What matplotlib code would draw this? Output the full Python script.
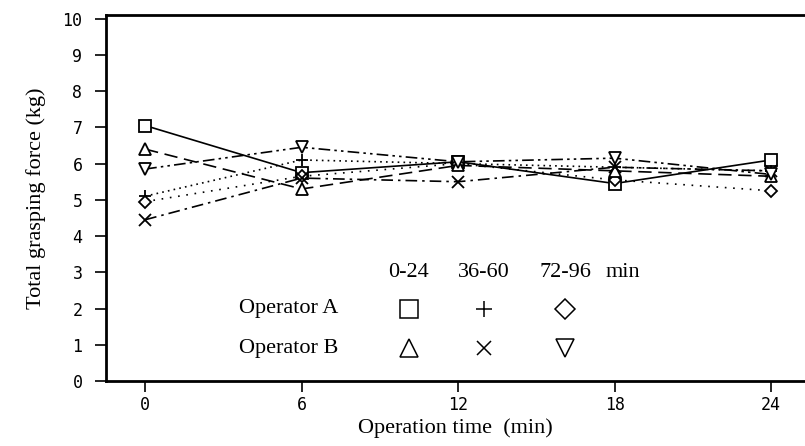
import matplotlib
matplotlib.use("Agg")
import matplotlib.pyplot as plt

# Data.
times = [0, 6, 12, 18, 24]

op_a_0_24 = [7.05, 5.75, 6.05, 5.45, 6.1]
op_a_36_60 = [5.1, 6.1, 6.0, 5.9, 5.8]
op_a_72_96 = [4.95, 5.65, 6.0, 5.55, 5.25]
op_b_0_24 = [6.4, 5.3, 5.95, 5.8, 5.65]
op_b_36_60 = [4.45, 5.6, 5.5, 5.9, 5.8]
op_b_72_96 = [5.85, 6.45, 6.05, 6.15, 5.7]

period_labels = ["0-24", "36-60", "72-96"]
operator_labels = ["Operator A", "Operator B"]

SERIF = "Liberation Serif"
MONO = "DejaVu Sans Mono"

fig = plt.figure(figsize=(8.05, 4.46), dpi=100)
ax = fig.add_axes([0.1317, 0.1457, 0.8683, 0.8206])

series = [
    (op_a_0_24, "s", "-"),
    (op_a_36_60, "+", (0, (1, 2.5))),
    (op_a_72_96, "D", (0, (1, 4))),
    (op_b_0_24, "^", (0, (8, 4))),
    (op_b_36_60, "x", (0, (7, 3, 1.5, 3))),
    (op_b_72_96, "v", (0, (7, 2.5, 1.5, 2.5, 1.5, 2.5))),
]

for values, marker, ls in series:
    size = 6.5 if marker == "D" else 8.5
    ax.plot(times, values, color="black", linestyle=ls, linewidth=1.2,
            marker=marker, markersize=size, markerfacecolor="white",
            markeredgecolor="black", markeredgewidth=1.3)

ax.set_xlim(-1.5, 25.3)
ax.set_ylim(0, 10.1)
ax.set_xticks(times)
ax.set_yticks(range(0, 11))

for side in ["left", "bottom", "top"]:
    ax.spines[side].set_linewidth(2)
ax.spines["right"].set_visible(False)

ax.tick_params(axis="both", direction="out", length=8, width=1.2,
               labelsize=12)
ax.tick_params(axis="y", pad=9)
ax.tick_params(axis="x", pad=3)
for lab in ax.get_xticklabels() + ax.get_yticklabels():
    lab.set_fontfamily(MONO)

ax.set_xlabel("Operation time  (min)", fontfamily=SERIF, fontsize=16, labelpad=3)
ax.set_ylabel("Total grasping force (kg)", fontfamily=SERIF, fontsize=16, labelpad=12)

# Hand-drawn legend inside the axes.
col_x = [10.1, 13.0, 16.1]
row_y = [2.0, 0.9]
header_y = 3.0
markers = [["s", "+", "D"], ["^", "x", "v"]]

for x, lab in zip(col_x, period_labels):
    ax.text(x, header_y, lab, ha="center", va="center",
            fontfamily=SERIF, fontsize=16)
ax.text(17.65, header_y, "min", ha="left", va="center",
        fontfamily=SERIF, fontsize=16)

for r, (y, lab) in enumerate(zip(row_y, operator_labels)):
    ax.text(3.6, y, lab, ha="left", va="center", fontfamily=SERIF, fontsize=16)
    for x, m in zip(col_x, markers[r]):
        size = {"D": 10, "+": 12, "x": 10}.get(m, 13)
        ax.plot([x], [y], marker=m, markersize=size, markerfacecolor="white",
                markeredgecolor="black", markeredgewidth=1.1, linestyle="none")

fig.savefig("out.png", dpi=100)
